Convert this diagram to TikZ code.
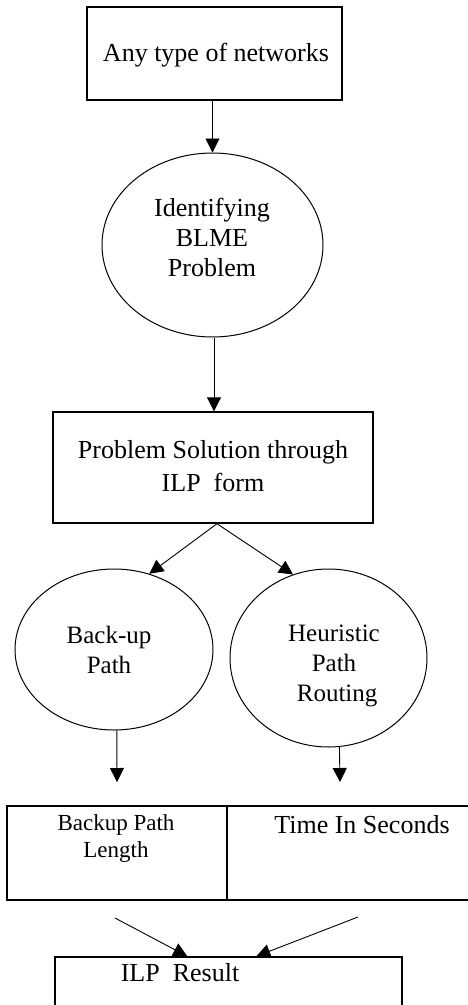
\documentclass[tikz,border=0pt]{standalone}
\usepackage{fontspec}
\setmainfont{Liberation Serif}
\usetikzlibrary{shapes.geometric,arrows.meta}

\tikzset{
  boxnode/.style={draw, line width=1.4pt, rectangle, inner sep=0pt},
  cellnode/.style={draw, line width=1.6pt, rectangle, inner sep=0pt},
  ovalnode/.style={draw, line width=1pt, ellipse, inner sep=0pt},
  txt/.style={inner sep=0pt, align=center, font=\fontsize{26}{30}\selectfont},
  smalltxt/.style={inner sep=0pt, align=center, font=\fontsize{25}{30}\selectfont},
  celltxt/.style={inner sep=0pt, align=center, font=\fontsize{23}{27}\selectfont},
  flow/.style={line width=0.9pt, -{Triangle[length=14pt,width=14pt]}}
}

\begin{document}
\begin{tikzpicture}[x=1pt,y=-1pt]
  \useasboundingbox (0,0) rectangle (467,1005);

  % input box
  \node[boxnode, minimum width=255pt, minimum height=93pt] (net) at (214.5,53.5) {};
  \node[txt] (nettxt) at (216,55) {Any type of networks};

  % problem identification
  \node[ovalnode, minimum width=221pt, minimum height=184pt] (ident) at (212.5,245) {};
  \node[txt, font=\fontsize{26}{30}\selectfont] (identtxt) at (212,237) {Identifying\\BLME\\Problem};

  % ILP formulation
  \node[boxnode, minimum width=320pt, minimum height=111pt] (ilp) at (213,467.5) {};
  \node[txt, font=\fontsize{26}{33}\selectfont] (ilptxt) at (213,466) {Problem Solution through\\ILP\ \ form};

  % two approaches
  \node[ovalnode, minimum width=198pt, minimum height=161pt] (backup) at (114,649.5) {};
  \node[smalltxt] (backuptxt) at (109,650) {Back-up\\Path};
  \node[ovalnode, minimum width=197pt, minimum height=178pt] (heur) at (328.5,658) {};
  \node[smalltxt] (heurtxt) at (334,666) {Heuristic\\Path\\\ Routing};

  % result table (open on the right)
  \node[cellnode, minimum width=220pt, minimum height=94pt] (cellA) at (117,853) {};
  \node[cellnode, minimum width=320pt, minimum height=94pt] (cellB) at (387,853) {};
  \node[celltxt] (cellAtxt) at (116,838.5) {Backup Path\\Length};
  \node[txt] (cellBtxt) at (362,825) {Time In Seconds};

  % final box
  \node[boxnode, minimum width=347pt, minimum height=100pt] (res) at (228.5,1007) {};
  \node[txt] (restxt) at (180,973) {ILP\ \ Result};

  % free ends of the open arrows
  \coordinate (backdown) at (117,782);
  \coordinate (heurdown) at (340,782);
  \coordinate (inA) at (115,918);
  \coordinate (inB) at (358,917);

  % connectors
  \draw[flow] (net.south -| ident.north) -- (ident.north);
  \draw[flow] ([xshift=1.5pt]ident.south) -- ([xshift=1pt]ilp.north);
  \draw[flow] ([xshift=4pt]ilp.south) -- (backup.65);
  \draw[flow] ([xshift=4pt]ilp.south) -- (heur.113);
  \draw[flow] (backup.-88) -- (backdown);
  \draw[flow] (heur.-83) -- (heurdown);
  \draw[flow] (inA) -- ([xshift=133pt]res.north west);
  \draw[flow] (inB) -- ([xshift=202pt]res.north west);
\end{tikzpicture}
\end{document}
